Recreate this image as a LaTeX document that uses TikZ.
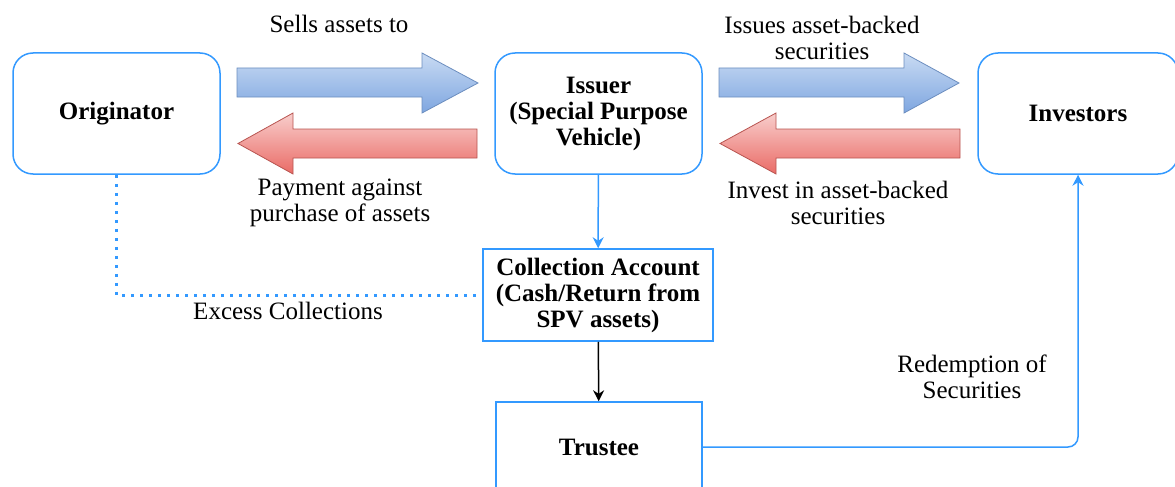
\documentclass[tikz,border=0pt]{standalone}
\usepackage{fontspec}
\setmainfont{Liberation Serif}
\usetikzlibrary{arrows.meta}
\definecolor{lineblue}{HTML}{3399FF}
\definecolor{bluetop}{HTML}{C9DBF3}
\definecolor{bluebot}{HTML}{7EA6E0}
\definecolor{blueedge}{HTML}{6C8EBF}
\definecolor{redtop}{HTML}{F8CECC}
\definecolor{redbot}{HTML}{EA6B66}
\definecolor{rededge}{HTML}{B85450}
\tikzset{
  party/.style={draw=lineblue,line width=1.5pt,rounded corners=20pt,
    minimum width=207pt,minimum height=121pt,align=center,
    font=\fontsize{25}{26}\selectfont\bfseries},
  account/.style={draw=lineblue,line width=1.5pt,align=center,
    font=\fontsize{25}{26}\selectfont\bfseries},
  lbl/.style={align=center,font=\fontsize{25}{26}\selectfont},
  flow/.style={draw=lineblue,line width=1.5pt,-{Stealth[length=11pt,width=11pt]}},
  bluearrow/.style={draw=blueedge,line width=0.8pt,top color=bluetop,bottom color=bluebot},
  redarrow/.style={draw=rededge,line width=0.8pt,top color=redtop,bottom color=redbot}
}
\begin{document}
\begin{tikzpicture}[x=1pt,y=-1pt]
    \useasboundingbox (0,0) rectangle (1175,487);

    \node[party] (orig) at (116.5,113.5) {Originator};
    \node[party] (spv) at (598.5,113.5) {Issuer\\(Special Purpose\\Vehicle)};
    \node[party,minimum width=200pt] (inv) at (1078,113.5) {Investors};
    \node[account,minimum width=230pt,minimum height=92pt] (coll) at (598,295)
      {Collection Account\\(Cash/Return from\\SPV assets)};
    \node[account,minimum width=206pt,minimum height=90pt] (trust) at (599,447) {Trustee};

    % block arrows between the parties
    \draw[bluearrow] (237,68)--(422,68)--(422,53)--(478,83)--(422,113)--(422,97)--(237,97)--cycle;
    \draw[redarrow] (477,129)--(293,129)--(293,113)--(238,143.5)--(293,174)--(293,158)--(477,158)--cycle;
    \draw[bluearrow] (719,68)--(904,68)--(904,53)--(959,83)--(904,113)--(904,97)--(719,97)--cycle;
    \draw[redarrow] (960,129)--(776,129)--(776,113)--(720,143.5)--(776,174)--(776,158)--(960,158)--cycle;

    \node[lbl] (sells) at (339,24) {Sells assets to};
    \node[lbl] (issues) at (822,37.5) {Issues asset-backed\\securities};
    \node[lbl] (pay) at (340,203) {Payment against\\purchase of assets};
    \node[lbl] (invest) at (838,203) {Invest in asset-backed\\securities};
    \node[lbl] (excess) at (288,311) {Excess Collections};
    \node[lbl] (redeem) at (972,376.5) {Redemption of\\Securities};

    % cash flows
    \draw[flow] (spv) -- (coll);
    \draw[line width=1.5pt,-{Stealth[length=11pt,width=11pt]}] (coll) -- (trust);
    \draw[lineblue,line width=3pt,dash pattern=on 3pt off 6pt]
      (orig.south) |- (coll.west);
    \draw[flow,rounded corners=10pt] (trust.east) -| (inv.south);
\end{tikzpicture}
\end{document}
